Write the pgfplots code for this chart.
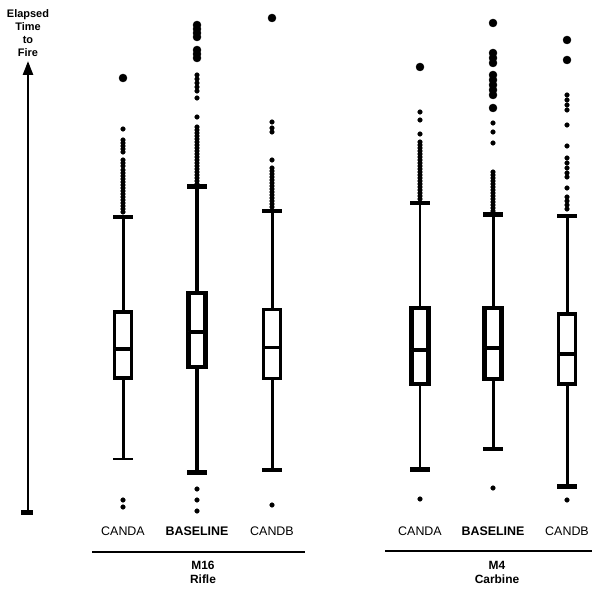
\documentclass[border=0pt]{standalone}
\usepackage{pgfplots}
\pgfplotsset{compat=1.18}
\usepgfplotslibrary{statistics}
\usetikzlibrary{arrows.meta}
\usepackage{fontspec}
\setmainfont{Liberation Sans}
\pgfplotsset{
  boxplot/lowcap/.style={line width=4bp},
  boxplot/upcap/.style={line width=4bp},
  boxplot/draw/lower whisker/.code={%
    \draw[/pgfplots/boxplot/every whisker/.try]
      (boxplot box cs:\pgfplotsboxplotvalue{lower whisker},0.5) --
      (boxplot box cs:\pgfplotsboxplotvalue{lower quartile},0.5);
    \draw[/pgfplots/boxplot/every whisker/.try, /pgfplots/boxplot/lowcap]
      (boxplot whisker cs:\pgfplotsboxplotvalue{lower whisker},0) --
      (boxplot whisker cs:\pgfplotsboxplotvalue{lower whisker},1);
  },
  boxplot/draw/upper whisker/.code={%
    \draw[/pgfplots/boxplot/every whisker/.try]
      (boxplot box cs:\pgfplotsboxplotvalue{upper whisker},0.5) --
      (boxplot box cs:\pgfplotsboxplotvalue{upper quartile},0.5);
    \draw[/pgfplots/boxplot/every whisker/.try, /pgfplots/boxplot/upcap]
      (boxplot whisker cs:\pgfplotsboxplotvalue{upper whisker},0) --
      (boxplot whisker cs:\pgfplotsboxplotvalue{upper whisker},1);
  },
}
\begin{document}
\begin{tikzpicture}
\begin{axis}[
  width=592bp, height=525bp, scale only axis,
  xmin=0, xmax=592, ymin=69, ymax=594,
  clip=false,
  axis line style={draw=none},
  tick style={draw=none},
  ytick=\empty,
  xtick={123,197,272,420,493,567},
  xticklabels={CANDA,\textbf{BASELINE},CANDB,CANDA,\textbf{BASELINE},CANDB},
  xticklabel style={font=\fontsize{12.5}{14}\selectfont, inner sep=2bp},
  boxplot/draw direction=y,
  boxplot/box extend=17,
  boxplot/whisker extend=20,
]
% ---------- M16 Rifle ----------
\addplot[black, fill=white, line width=3.5bp, line join=miter,
  boxplot/every whisker/.style={line width=3bp},
  boxplot/lowcap/.style={line width=2.5bp}, boxplot/upcap/.style={line width=4.5bp},
  boxplot prepared={draw position=123,
  lower whisker=135, lower quartile=216, median=245, upper quartile=282, upper whisker=377}] coordinates {};
\addplot[black, fill=white, line width=4.5bp, line join=miter,
  boxplot/every whisker/.style={line width=4bp},
  boxplot/lowcap/.style={line width=5bp}, boxplot/upcap/.style={line width=5bp},
  boxplot prepared={draw position=197,
  lower whisker=122, lower quartile=227, median=262, upper quartile=301, upper whisker=407}] coordinates {};
\addplot[black, fill=white, line width=3bp, line join=miter,
  boxplot/every whisker/.style={line width=3bp},
  boxplot/lowcap/.style={line width=4.5bp}, boxplot/upcap/.style={line width=4bp},
  boxplot prepared={draw position=272,
  lower whisker=124, lower quartile=215, median=246, upper quartile=284, upper whisker=383}] coordinates {};
% ---------- M4 Carbine ----------
\addplot[black, fill=white, line width=4.5bp, line join=miter,
  boxplot/every whisker/.style={line width=2bp},
  boxplot/lowcap/.style={line width=5bp}, boxplot/upcap/.style={line width=4bp},
  boxplot prepared={draw position=420,
  lower whisker=125, lower quartile=210, median=244, upper quartile=286, upper whisker=391}] coordinates {};
\addplot[black, fill=white, line width=4.5bp, line join=miter,
  boxplot/every whisker/.style={line width=3bp},
  boxplot/lowcap/.style={line width=4bp}, boxplot/upcap/.style={line width=5bp},
  boxplot prepared={draw position=493,
  lower whisker=145, lower quartile=215, median=246, upper quartile=286, upper whisker=379}] coordinates {};
\addplot[black, fill=white, line width=3.5bp, line join=miter,
  boxplot/every whisker/.style={line width=3bp},
  boxplot/lowcap/.style={line width=5bp}, boxplot/upcap/.style={line width=4bp},
  boxplot prepared={draw position=567,
  lower whisker=108, lower quartile=210, median=240, upper quartile=280, upper whisker=378}] coordinates {};

% ---------- outliers (small) ----------
\addplot[only marks, mark=*, mark size=2.3bp, black] coordinates {
 (123,94) (123,87) (123,465) (123,454) (123,451) (123,448) (123,445) (123,442)
 (123,434) (123,431) (123,428) (123,424) (123,421) (123,418) (123,415) (123,412)
 (123,409) (123,406) (123,403) (123,400) (123,397) (123,394) (123,391) (123,388)
 (123,385) (123,382)
 (197,105) (197,94) (197,83) (197,519) (197,515) (197,511) (197,507) (197,503)
 (197,496) (197,477) (197,467) (197,464) (197,461) (197,458) (197,455) (197,452)
 (197,449) (197,446) (197,443) (197,440) (197,437) (197,434) (197,431) (197,428)
 (197,425) (197,422) (197,419) (197,416) (197,413) (197,410)
 (272,89) (272,472) (272,466) (272,462) (272,434) (272,426) (272,423) (272,420)
 (272,417) (272,414) (272,411) (272,408) (272,405) (272,402) (272,399) (272,396)
 (272,393) (272,390) (272,387)
 (420,95) (420,482) (420,474) (420,460) (420,452) (420,449) (420,446) (420,443)
 (420,440) (420,437) (420,434) (420,431) (420,428) (420,425) (420,422) (420,419)
 (420,416) (420,413) (420,410) (420,407) (420,404) (420,401) (420,398) (420,395)
 (493,106) (493,471) (493,462) (493,451) (493,422) (493,419) (493,416) (493,413)
 (493,410) (493,407) (493,404) (493,401) (493,398) (493,395) (493,392) (493,389)
 (493,386) (493,383)
 (567,94) (567,499) (567,494) (567,489) (567,484) (567,469) (567,448) (567,436)
 (567,431) (567,426) (567,421) (567,417) (567,406) (567,397) (567,393) (567,389)
 (567,385)
};
% ---------- outliers (large) ----------
\addplot[only marks, mark=*, mark size=4bp, black] coordinates {
 (123,516)
 (197,569) (197,565) (197,561) (197,557) (197,544) (197,540) (197,536)
 (272,576)
 (420,527)
 (493,571) (493,541) (493,536) (493,531) (493,519) (493,514) (493,509) (493,504)
 (493,499) (493,486)
 (567,554) (567,534)
};

% ---------- y axis arrow ----------
\draw[line width=2.5bp, -{Triangle[width=10bp,length=14bp]}] (axis cs:28,80) -- (axis cs:28,533);
\draw[line width=5bp] (axis cs:21,82) -- (axis cs:33,82);
\node[align=center, font=\bfseries\fontsize{11}{13}\selectfont, inner sep=0pt]
  at (axis cs:28,561) {Elapsed\\Time\\to\\Fire};

% ---------- group labels ----------
\draw[line width=2bp] (axis cs:92,42) -- (axis cs:305,42);
\draw[line width=2bp] (axis cs:385,43) -- (axis cs:592,43);
\node[align=center, font=\bfseries\fontsize{12}{14}\selectfont, inner sep=0pt]
  at (axis cs:203,22) {M16\\Rifle};
\node[align=center, font=\bfseries\fontsize{12}{14}\selectfont, inner sep=0pt]
  at (axis cs:497,22) {M4\\Carbine};

\path (axis cs:0,0) rectangle (axis cs:592,594);
\end{axis}
\end{tikzpicture}
\end{document}
